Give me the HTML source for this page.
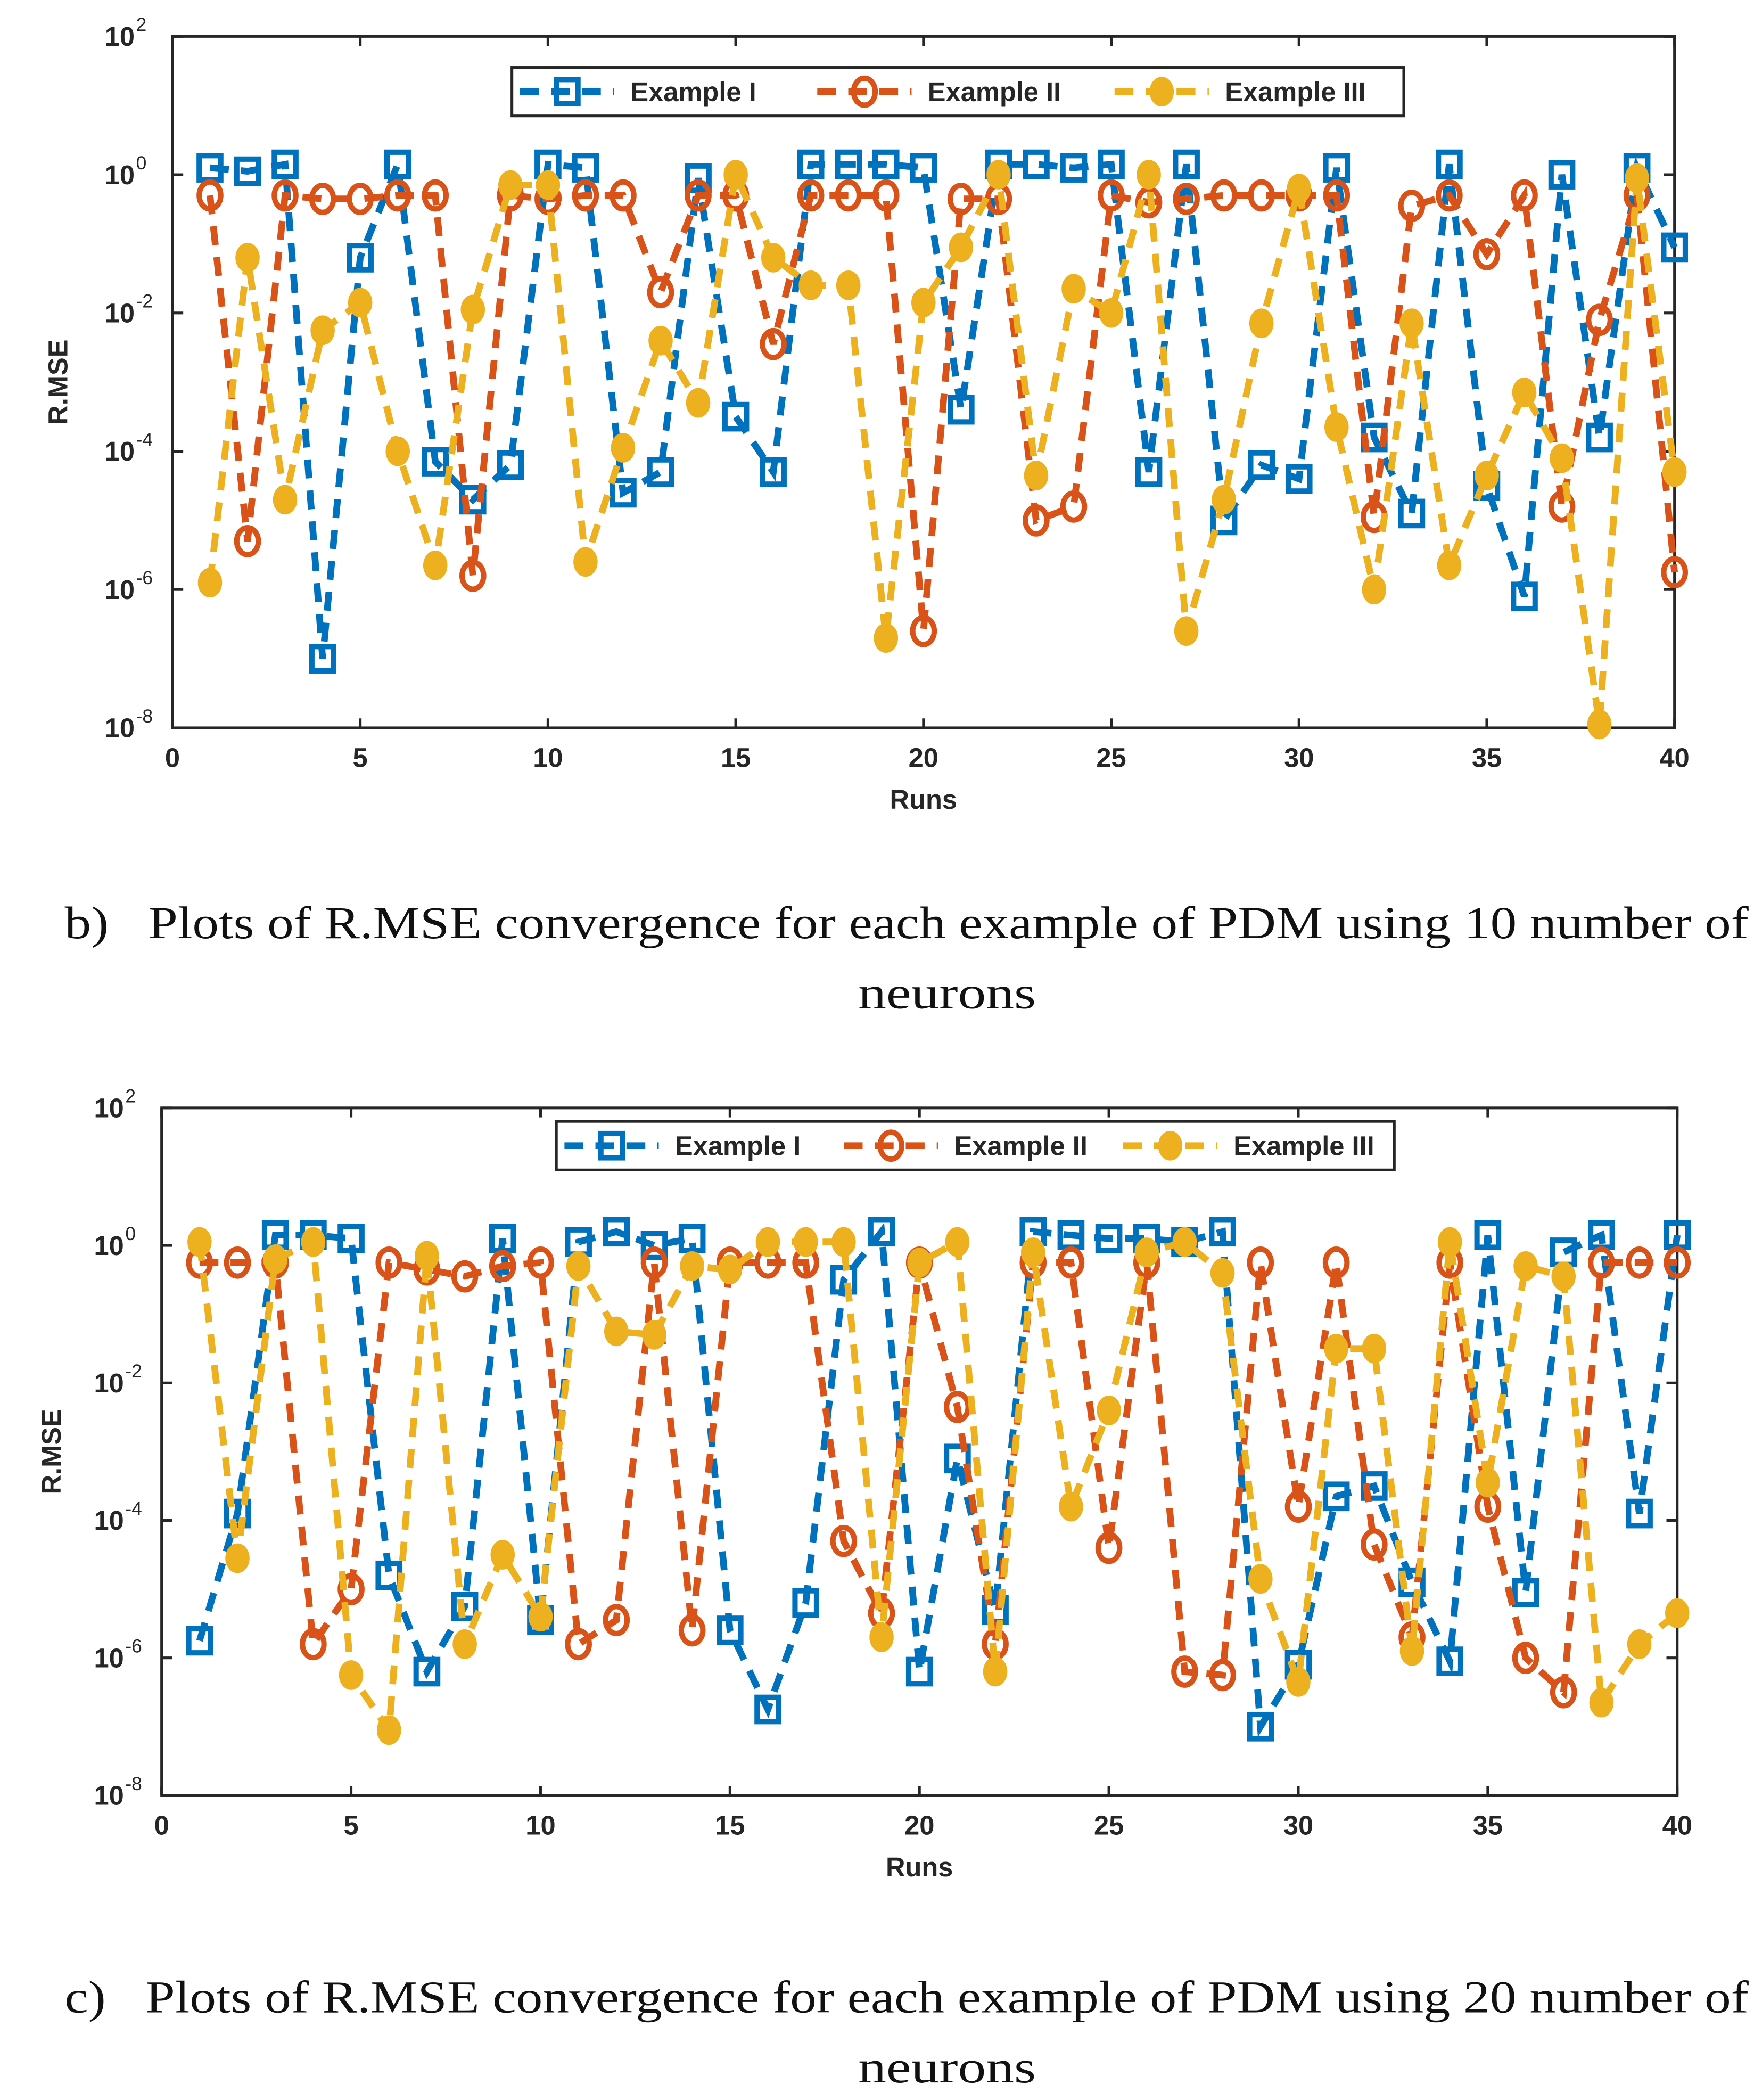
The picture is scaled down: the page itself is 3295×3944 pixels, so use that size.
<!DOCTYPE html>
<html><head><meta charset="utf-8"><style>
html,body{margin:0;padding:0;background:#fff;}
svg{display:block;}
.tk{font-family:"Liberation Sans",sans-serif;font-weight:bold;font-size:20px;fill:#262626;}
.cap{font-family:"Liberation Serif",serif;font-size:34px;fill:#111;}
</style></head><body>
<svg id="svg" width="3295" height="3944" viewBox="0 0 1302 1558" preserveAspectRatio="none" xmlns="http://www.w3.org/2000/svg">
<text class="cap" x="48" y="696" textLength="1250" lengthAdjust="spacingAndGlyphs">b)&#160;&#160;&#160;Plots of R.MSE convergence for each example of PDM using 10 number of</text>
<text class="cap" x="703" y="748" text-anchor="middle" textLength="132" lengthAdjust="spacingAndGlyphs">neurons</text>
<text class="cap" x="48" y="1493" textLength="1250" lengthAdjust="spacingAndGlyphs">c)&#160;&#160;&#160;Plots of R.MSE convergence for each example of PDM using 20 number of</text>
<text class="cap" x="703" y="1545" text-anchor="middle" textLength="132" lengthAdjust="spacingAndGlyphs">neurons</text>
</svg>
<script>
const runs = Array.from({length:40},(_,i)=>i+1);
const b_ex1 = [0.1,0.05,0.15,-7,-1.2,0.15,-4.15,-4.7,-4.2,0.15,0.1,-4.6,-4.3,-0.05,-3.5,-4.3,0.15,0.15,0.15,0.1,-3.4,0.15,0.15,0.1,0.15,-4.3,0.15,-5.0,-4.2,-4.4,0.1,-3.8,-4.9,0.15,-4.5,-6.1,0,-3.8,0.1,-1.05];
const b_ex2 = [-0.3,-5.3,-0.3,-0.35,-0.35,-0.3,-0.3,-5.8,-0.3,-0.35,-0.3,-0.3,-1.7,-0.3,-0.3,-2.45,-0.3,-0.3,-0.3,-6.6,-0.35,-0.35,-5.0,-4.8,-0.3,-0.4,-0.35,-0.3,-0.3,-0.3,-0.3,-4.95,-0.45,-0.3,-1.15,-0.3,-4.8,-2.1,-0.3,-5.75];
const b_ex3 = [-5.9,-1.2,-4.7,-2.25,-1.85,-4.0,-5.65,-1.95,-0.15,-0.15,-5.6,-3.95,-2.4,-3.3,0,-1.2,-1.6,-1.6,-6.7,-1.85,-1.05,0,-4.35,-1.65,-2.0,0,-6.6,-4.7,-2.15,-0.2,-3.65,-6.0,-2.15,-5.65,-4.35,-3.15,-4.1,-7.95,-0.05,-4.3];
const c_ex1 = [-5.75,-3.9,0.15,0.15,0.1,-4.8,-6.2,-5.25,0.1,-5.45,0.05,0.2,0,0.1,-5.6,-6.75,-5.2,-0.5,0.2,-6.2,-3.1,-5.3,0.2,0.15,0.1,0.1,0.05,0.2,-7.0,-6.1,-3.65,-3.5,-4.9,-6.05,0.15,-5.05,-0.1,0.15,-3.9,0.15];
const c_ex2 = [-0.25,-0.25,-0.25,-5.8,-5.0,-0.25,-0.35,-0.45,-0.3,-0.25,-5.8,-5.45,-0.25,-5.6,-0.25,-0.25,-0.25,-4.3,-5.35,-0.25,-2.35,-5.8,-0.25,-0.25,-4.4,-0.25,-6.2,-6.25,-0.25,-3.8,-0.25,-4.35,-5.7,-0.25,-3.8,-6.0,-6.5,-0.25,-0.25,-0.25];
const c_ex3 = [0.05,-4.55,-0.2,0.05,-6.25,-7.05,-0.15,-5.8,-4.5,-5.4,-0.3,-1.25,-1.3,-0.3,-0.35,0.05,0.05,0.05,-5.7,-0.25,0.05,-6.2,-0.1,-3.8,-2.4,-0.1,0.05,-0.4,-4.85,-6.35,-1.5,-1.5,-5.9,0.05,-3.45,-0.3,-0.45,-6.65,-5.8,-5.35];
const xTicks = [0,5,10,15,20,25,30,35,40];
const yTickExp = [2,0,-2,-4,-6,-8];
const seriesNames = ["Example I","Example II","Example III"];
const colors = ["#0072BD","#D95319","#EDB120"];
const NS="http://www.w3.org/2000/svg";
const svg=document.getElementById('svg');
function mk(tag,attrs,parent){const e=document.createElementNS(NS,tag);for(const k in attrs)e.setAttribute(k,attrs[k]);(parent||svg).appendChild(e);return e;}
function marker(g,k,x,y){
  let m;
  if(k===0){m=mk('rect',{x:x-8,y:y-9,width:16,height:18,fill:'none',stroke:colors[0],'stroke-width':4},g);}
  else if(k===1){m=mk('ellipse',{cx:x,cy:y,rx:8,ry:10,fill:'none',stroke:colors[1],'stroke-width':4},g);}
  else {m=mk('ellipse',{cx:x,cy:y,rx:8,ry:10,fill:colors[2],stroke:colors[2],'stroke-width':2},g);}
  return m;
}
function plot(p){
  const g=mk('g',{});
  
  
  const X=v=>p.l+(v/40)*(p.r-p.l);
  const Y=e=>p.t+(2-e)/10*(p.b-p.t);
  const ax=mk('rect',{x:p.l,y:p.t,width:p.r-p.l,height:p.b-p.t,fill:'#fff',stroke:'#262626','stroke-width':2},g);
  
  
  xTicks.forEach(v=>{
    mk('line',{x1:X(v),x2:X(v),y1:p.b,y2:p.b-7,stroke:'#262626','stroke-width':2},g);
    mk('line',{x1:X(v),x2:X(v),y1:p.t,y2:p.t+7,stroke:'#262626','stroke-width':2},g);
    const t=mk('text',{x:X(v),y:p.b+29,'text-anchor':'middle',class:'tk'},g);t.textContent=v;
    
    
  });
  yTickExp.forEach(e=>{
    mk('line',{x1:p.l,x2:p.l+8,y1:Y(e),y2:Y(e),stroke:'#262626','stroke-width':2},g);
    mk('line',{x1:p.r,x2:p.r-8,y1:Y(e),y2:Y(e),stroke:'#262626','stroke-width':2},g);
    const t=mk('text',{x:p.l-28,y:Y(e)+7,'text-anchor':'end',class:'tk'},g);t.textContent='10';
    
    
    const s=mk('text',{x:p.l-27,y:Y(e)-4,class:'tk'},g);s.textContent=e;s.style.fontSize='14px';s.style.fontWeight='normal';
  });
  const xl=mk('text',{x:(p.l+p.r)/2,y:p.b+60,'text-anchor':'middle',class:'tk'},g);xl.textContent='Runs';
  
  
  const yl=mk('text',{x:0,y:0,'text-anchor':'middle',class:'tk',transform:`translate(${p.yx},${(p.t+p.b)/2}) rotate(-90)`},g);yl.textContent='R.MSE';
  
  
  p.data.forEach((d,k)=>{
    const pts=runs.map((r,i)=>X(r)+','+Y(d[i])).join(' ');
    const pl=mk('polyline',{points:pts,fill:'none',stroke:colors[k],'stroke-width':5,'stroke-dasharray':'14,9'},g);
    
    
    runs.forEach((r,i)=>{const m=marker(g,k,X(r),Y(d[i]));
      
      });
  });
  const lg=mk('g',{},g);
  
  
  mk('rect',{x:p.lg[0],y:p.lg[1],width:p.lg[2]-p.lg[0],height:36,fill:'#fff',stroke:'#262626','stroke-width':2},lg);
  const w=(p.lg[2]-p.lg[0])/3;
  seriesNames.forEach((n,k)=>{
    const x0=p.lg[0]+6+k*w, cy=p.lg[1]+18;
    mk('line',{x1:x0,x2:x0+70,y1:cy,y2:cy,stroke:colors[k],'stroke-width':5,'stroke-dasharray':'14,9'},lg);
    marker(lg,k,x0+35,cy);
    const t=mk('text',{x:x0+82,y:cy+7,class:'tk'},lg);t.textContent=n;
    
    
  });
}
plot({name:'chart-10-neurons',l:128,r:1243,t:27,b:540,yx:50,data:[b_ex1,b_ex2,b_ex3],lg:[380,50,1042]});
plot({name:'chart-20-neurons',l:120,r:1245,t:822,b:1332,yx:45,data:[c_ex1,c_ex2,c_ex3],lg:[413,832,1035]});
</script>
</body></html>
